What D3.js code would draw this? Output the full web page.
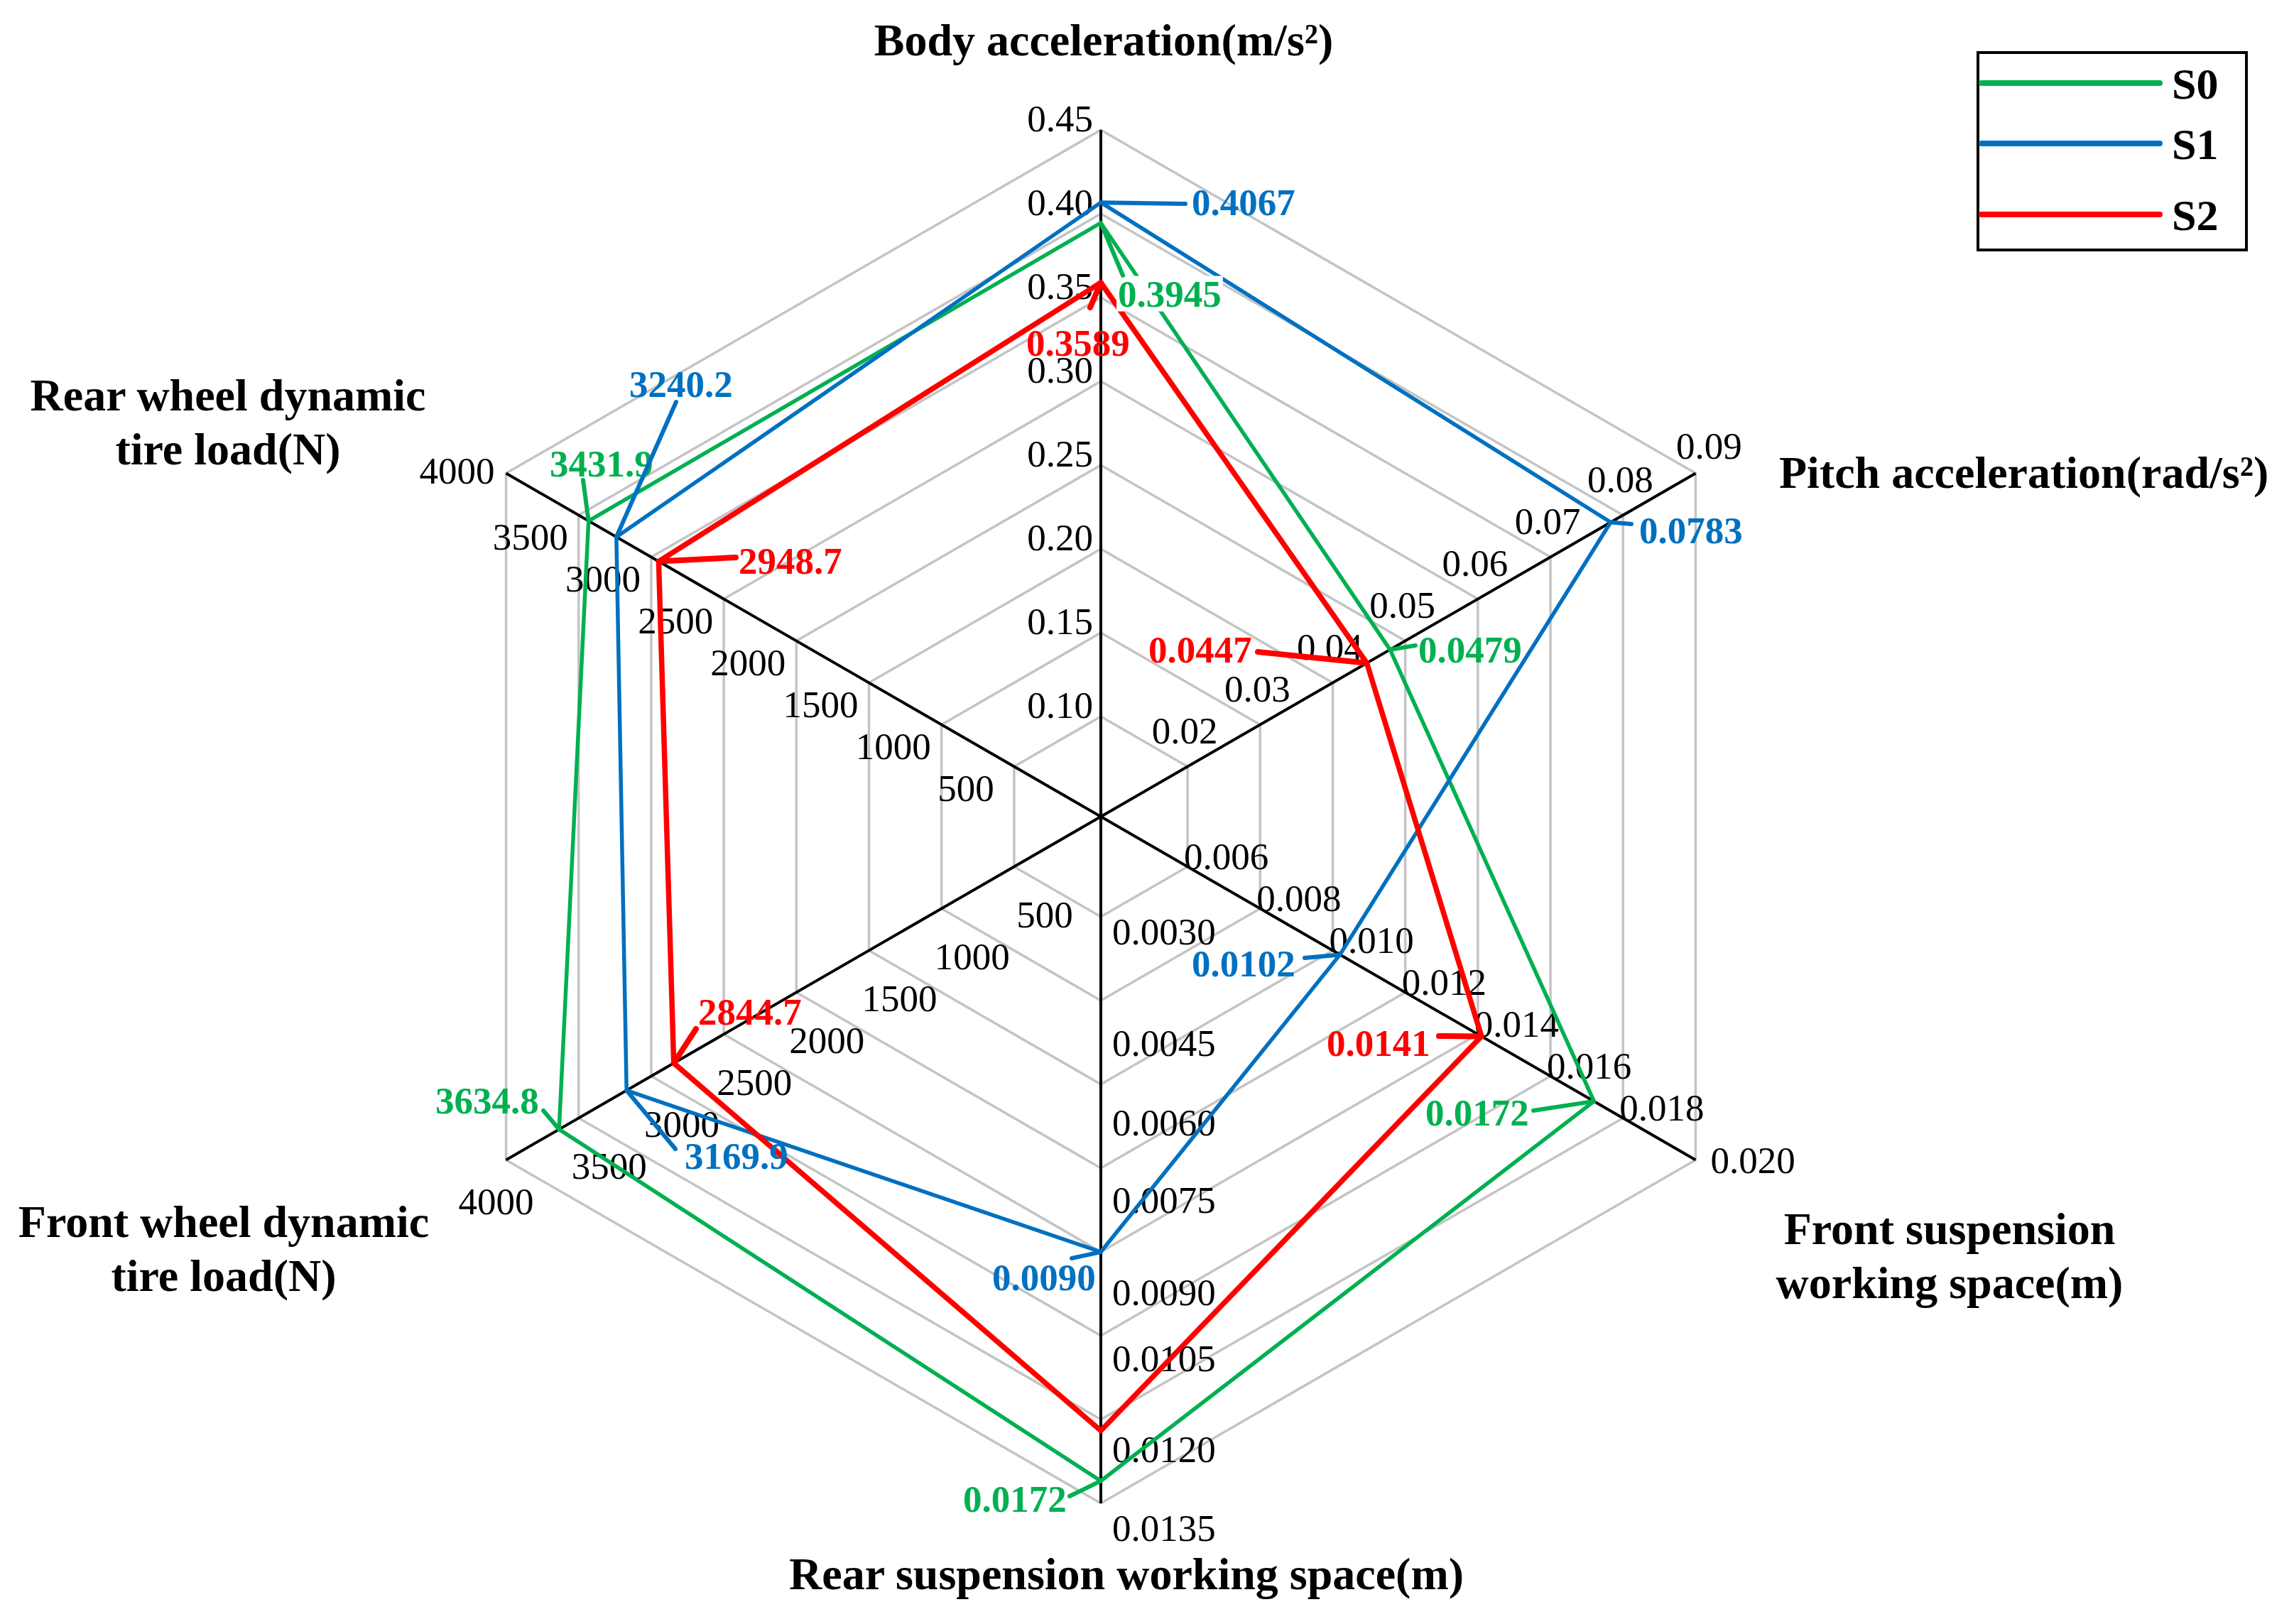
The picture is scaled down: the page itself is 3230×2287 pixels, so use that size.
<!DOCTYPE html>
<html>
<head>
<meta charset="utf-8">
<script src="https://cdn.jsdelivr.net/npm/d3@7"></script>
<style>
  html, body { margin: 0; padding: 0; background: #fff; }
  svg { display: block; }
</style>
</head>
<body>
<svg id="chart" width="3230" height="2287"></svg>
<script>
// ---------------- DATA ----------------
const categories = [
  "Body acceleration(m/s²)",
  "Pitch acceleration(rad/s²)",
  "Front suspension\nworking space(m)",
  "Rear suspension working space(m)",
  "Front wheel dynamic\ntire load(N)",
  "Rear wheel dynamic\ntire load(N)"
];
const ticksBody = ["0.10", "0.15", "0.20", "0.25", "0.30", "0.35", "0.40", "0.45"];
const ticksPitch = ["0.02", "0.03", "0.04", "0.05", "0.06", "0.07", "0.08", "0.09"];
const ticksFrontSusp = ["0.006", "0.008", "0.010", "0.012", "0.014", "0.016", "0.018", "0.020"];
const ticksRearSusp = ["0.0030", "0.0045", "0.0060", "0.0075", "0.0090", "0.0105", "0.0120", "0.0135"];
const ticksFrontWheel = ["500", "1000", "1500", "2000", "2500", "3000", "3500", "4000"];
const ticksRearWheel = ["500", "1000", "1500", "2000", "2500", "3000", "3500", "4000"];

const seriesNames = ["S0", "S1", "S2"];
const valuesS0 = [0.3945, 0.0479, 0.0172, 0.0131, 3634.8, 3431.9];
const valuesS1 = [0.4067, 0.0783, 0.0102, 0.0090, 3169.9, 3240.2];
const valuesS2 = [0.3589, 0.0447, 0.0141, 0.0122, 2844.7, 2948.7];
const labelsS0 = ["0.3945", "0.0479", "0.0172", "0.0172", "3634.8", "3431.9"];
const labelsS1 = ["0.4067", "0.0783", "0.0102", "0.0090", "3169.9", "3240.2"];
const labelsS2 = ["0.3589", "0.0447", "0.0141", null, "2844.7", "2948.7"];

// ---------------- LAYOUT ----------------
const W = 3230, H = 2287;
const cx = 1550, cy = 1150;
const R = 967;          // outer ring radius
const r0 = 141;         // first ring radius
const colors = ["#00B050", "#0070C0", "#FF0000"];
const lineW = [5.5, 5.5, 7.5];
const serif = "'Palatino Linotype','Book Antiqua',Palatino,'Liberation Serif','Times New Roman',serif";

const axisTicks = [ticksBody, ticksPitch, ticksFrontSusp, ticksRearSusp, ticksFrontWheel, ticksRearWheel];
const angles = [-90, -30, 30, 90, 150, 210].map(d => d * Math.PI / 180);

// tick label placement per axis: anchor, offset for inner ticks, offset for outer tick
const tickLayout = [
  { anchor: "end", d: [-11, -17], outer: [-11, -17] },
  { anchor: "middle", d: [-4, -51], outer: [19, -39] },
  { anchor: "start", d: [-5, -15], outer: [21, 0] },
  { anchor: "start", d: [16, 42], outer: [16, 34], dyEach: [20, 59, 53, 44, 56, 31, 41, 34] },
  { anchor: "middle", d: [43, 67], outer: [-14, 58] },
  { anchor: "middle", d: [-68, 30], outer: [-69, -4] }
];

// axis title placement: [x, y of first line, anchor]
const titleLayout = [
  [1554, 56, "middle"],
  [2505, 665, "start"],
  [2745, 1730, "middle"],
  [1586, 2216, "middle"],
  [315, 1720, "middle"],
  [321, 556, "middle"]
];
const titleLineGap = 76;

// data label placement: text left x, centre y, leader end x, y, white background
const labelLayout = [
  [ // S0
    [1574, 413, 1581, 388, true],
    [1997, 914, 1993, 909, false],
    [2007, 1566, 2159, 1564, false],
    [1356, 2110, 1506, 2107, false],
    [613, 1549, 765, 1564, false],
    [774, 652, 821, 676, false]
  ],
  [ // S1
    [1678, 284, 1669, 287, false],
    [2308, 746, 2297, 738, false],
    [1678, 1356, 1837, 1349, false],
    [1397, 1798, 1509, 1772, false],
    [964, 1627, 951, 1618, false],
    [886, 540, 952, 566, false]
  ],
  [ // S2
    [1445, 482, 1535, 433, false],
    [1617, 914, 1771, 918, false],
    [1868, 1468, 2026, 1459, false],
    null,
    [983, 1424, 980, 1449, false],
    [1040, 789, 1036, 785, false]
  ]
];

// ---------------- SCALES ----------------
const scales = axisTicks.map(t =>
  d3.scaleLinear().domain([+t[0], +t[t.length - 1]]).range([r0, R])
);
const ringScale = d3.scaleLinear().domain([0, 7]).range([r0, R]);
const pt = (i, r) => [cx + r * Math.cos(angles[i]), cy + r * Math.sin(angles[i])];

const svg = d3.select("#chart");
svg.append("rect").attr("width", W).attr("height", H).attr("fill", "#fff");

// ---------------- GRID ----------------
const gGrid = svg.append("g");
const lineGen = d3.line();
d3.range(8).forEach(k => {
  const r = ringScale(k);
  const pts = angles.map((a, i) => pt(i, r));
  gGrid.append("path")
    .attr("d", lineGen(pts) + "Z")
    .attr("fill", "none")
    .attr("stroke", "#C4C4C4")
    .attr("stroke-width", 3.5);
});

// axes
const gAxes = svg.append("g");
angles.forEach((a, i) => {
  const [x, y] = pt(i, R);
  gAxes.append("line")
    .attr("x1", cx).attr("y1", cy).attr("x2", x).attr("y2", y)
    .attr("stroke", "#000").attr("stroke-width", 4);
});

// tick labels
const gTicks = svg.append("g")
  .attr("font-family", serif).attr("font-size", 53).attr("fill", "#000");
axisTicks.forEach((ticks, i) => {
  const lay = tickLayout[i];
  ticks.forEach((t, k) => {
    const [x, y] = pt(i, scales[i](+t));
    const off = k === ticks.length - 1 ? lay.outer : lay.d;
    const oy = lay.dyEach ? lay.dyEach[k] : off[1];
    gTicks.append("text")
      .attr("x", x + off[0]).attr("y", y + oy)
      .attr("dy", "0.35em")
      .attr("text-anchor", lay.anchor)
      .text(t);
  });
});

// axis titles
const gTitles = svg.append("g")
  .attr("font-family", serif).attr("font-size", 64).attr("font-weight", "bold").attr("fill", "#000");
categories.forEach((c, i) => {
  const [x, y, anchor] = titleLayout[i];
  c.split("\n").forEach((line, j) => {
    gTitles.append("text")
      .attr("x", x).attr("y", y + j * titleLineGap)
      .attr("dy", "0.35em")
      .attr("text-anchor", anchor)
      .text(line);
  });
});

// ---------------- SERIES ----------------
const allValues = [valuesS0, valuesS1, valuesS2];
const allLabels = [labelsS0, labelsS1, labelsS2];
const gSeries = svg.append("g");
allValues.forEach((vals, s) => {
  const pts = vals.map((v, i) => pt(i, scales[i](v)));
  gSeries.append("path")
    .attr("d", lineGen(pts) + "Z")
    .attr("fill", "none")
    .attr("stroke", colors[s])
    .attr("stroke-width", lineW[s])
    .attr("stroke-linejoin", "round");
});

// data labels with leaders
const gLabels = svg.append("g")
  .attr("font-family", serif).attr("font-size", 53).attr("font-weight", "bold");
allValues.forEach((vals, s) => {
  vals.forEach((v, i) => {
    const lab = allLabels[s][i];
    const lay = labelLayout[s][i];
    if (!lab || !lay) return;
    const [vx, vy] = pt(i, scales[i](v));
    const [tx, ty, lx, ly, bg] = lay;
    const txt = gLabels.append("text")
      .attr("x", tx).attr("y", ty)
      .attr("dy", "0.35em")
      .attr("fill", colors[s])
      .text(lab);
    if (bg) {
      const bb = txt.node().getBBox();
      gLabels.insert("rect", () => txt.node())
        .attr("x", bb.x - 2).attr("y", bb.y + 4)
        .attr("width", bb.width + 4).attr("height", bb.height - 8)
        .attr("fill", "#fff");
    }
    gLabels.append("line")
      .attr("x1", vx).attr("y1", vy).attr("x2", lx).attr("y2", ly)
      .attr("stroke", colors[s])
      .attr("stroke-width", s === 2 ? 8 : 6)
      .attr("stroke-linecap", "round");
  });
});

// ---------------- LEGEND ----------------
const gLeg = svg.append("g");
gLeg.append("rect")
  .attr("x", 2785).attr("y", 74).attr("width", 378).attr("height", 278)
  .attr("fill", "#fff").attr("stroke", "#000").attr("stroke-width", 4);
const legY = [117, 202, 302];
seriesNames.forEach((n, s) => {
  gLeg.append("line")
    .attr("x1", 2790).attr("x2", 3041).attr("y1", legY[s]).attr("y2", legY[s])
    .attr("stroke", colors[s]).attr("stroke-width", 8).attr("stroke-linecap", "round");
  gLeg.append("text")
    .attr("x", 3058).attr("y", legY[s]).attr("dy", "0.35em")
    .attr("font-family", serif).attr("font-size", 62).attr("font-weight", "bold")
    .attr("fill", "#000")
    .text(n);
});
</script>
</body>
</html>
